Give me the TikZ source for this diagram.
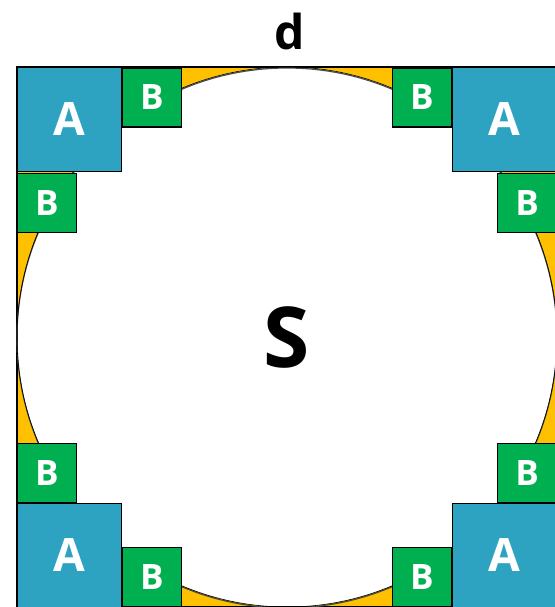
\documentclass[tikz,border=0pt]{standalone}
\usepackage{fontspec}
\setmainfont{Open Sans}
\usepackage{tikz}

\definecolor{tealA}{RGB}{46,163,193}
\definecolor{greenB}{RGB}{0,176,80}
\definecolor{goldgap}{RGB}{255,192,0}

\tikzset{
    abox/.style={draw=black, line width=1.4pt, fill=tealA, text=white,
        minimum size=104pt, inner sep=0pt, font=\bfseries\fontsize{46}{46}\selectfont},
    bbox/.style={draw=black, line width=1.4pt, fill=greenB, text=white,
        minimum size=59pt, inner sep=0pt, font=\bfseries\fontsize{35}{35}\selectfont}
}

\begin{document}
\begin{tikzpicture}[x=1pt,y=-1pt]
    \useasboundingbox (0,0) rectangle (554,607);

    % Quadrat mit Kreis, Zwickel gelb
    \fill[goldgap, even odd rule] (17,67) rectangle (557,607) (287,337) circle (270);
    \draw[black, line width=1.4pt] (17,67) rectangle (557,607);
    \draw[black!70, line width=1.2pt] (287,338) circle (270);
    \draw[black, line width=0.6pt] (287,337) circle (270);

    % Beschriftung
    \node[font=\bfseries\fontsize{48}{48}\selectfont] (d) at (290,32) {d};
    \node[font=\bfseries\fontsize{84}{84}\selectfont] (s) at (287,337) {S};

    % Ecken oben
    \node[abox] (a1) at (69.5,119.5) {A};
    \node[bbox] (b1) at (152,97.5) {B};
    \node[bbox] (b2) at (47,203) {B};
    \node[abox] (a2) at (504.5,119.5) {A};
    \node[bbox] (b3) at (422,97.5) {B};
    \node[bbox] (b4) at (527,203) {B};

    % Ecken unten
    \node[abox] (a3) at (69.5,555.5) {A};
    \node[bbox] (b5) at (47,473) {B};
    \node[bbox] (b6) at (152,577) {B};
    \node[abox] (a4) at (504.5,555.5) {A};
    \node[bbox] (b7) at (527,473) {B};
    \node[bbox] (b8) at (422,577) {B};
\end{tikzpicture}
\end{document}
